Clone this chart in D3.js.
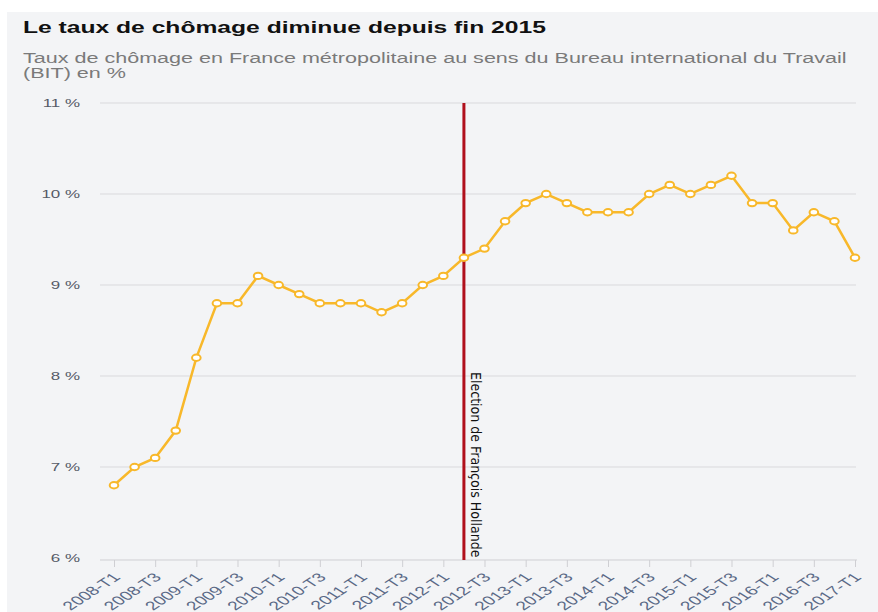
<!DOCTYPE html>
<html>
<head>
<meta charset="utf-8">
<script src="https://cdn.jsdelivr.net/npm/d3@7"></script>
<style>
  body { margin: 0; background: #fff; }
  svg { display: block; }
</style>
</head>
<body>
<script>
var quarters = [
  "2008-T1","2008-T2","2008-T3","2008-T4",
  "2009-T1","2009-T2","2009-T3","2009-T4",
  "2010-T1","2010-T2","2010-T3","2010-T4",
  "2011-T1","2011-T2","2011-T3","2011-T4",
  "2012-T1","2012-T2","2012-T3","2012-T4",
  "2013-T1","2013-T2","2013-T3","2013-T4",
  "2014-T1","2014-T2","2014-T3","2014-T4",
  "2015-T1","2015-T2","2015-T3","2015-T4",
  "2016-T1","2016-T2","2016-T3","2016-T4",
  "2017-T1"
];
var rates = [
  6.8, 7.0, 7.1, 7.4,
  8.2, 8.8, 8.8, 9.1,
  9.0, 8.9, 8.8, 8.8,
  8.8, 8.7, 8.8, 9.0,
  9.1, 9.3, 9.4, 9.7,
  9.9, 10.0, 9.9, 9.8,
  9.8, 9.8, 10.0, 10.1,
  10.0, 10.1, 10.2, 9.9,
  9.9, 9.6, 9.8, 9.7,
  9.3
];
var yTicks = [6, 7, 8, 9, 10, 11];
var electionQuarter = "2012-T2";
var electionLabel = "Election de François Hollande";

var W = 878, H = 612;
// the source picture is stretched sideways, so text is widened to match
var stretch = 1.54;

var svg = d3.select("body").append("svg")
    .attr("width", W)
    .attr("height", H);

// panel background
svg.append("rect")
    .attr("x", 7).attr("y", 12)
    .attr("width", W - 7).attr("height", H - 12)
    .attr("fill", "#f3f4f6");

svg.append("text")
    .attr("transform", "translate(23,33) scale(" + stretch + ",1)")
    .style("font-family", "Liberation Sans, Arial, sans-serif")
    .style("font-size", "16px")
    .style("font-weight", "bold")
    .attr("fill", "#111")
    .text("Le taux de chômage diminue depuis fin 2015");

var sub = svg.append("text")
    .attr("transform", "translate(23,0) scale(" + stretch + ",1)")
    .style("font-family", "Liberation Sans, Arial, sans-serif")
    .style("font-size", "14px")
    .attr("fill", "#7a7a7a");
sub.append("tspan").attr("x", 0).attr("y", 63)
    .text("Taux de chômage en France métropolitaine au sens du Bureau international du Travail");
sub.append("tspan").attr("x", 0).attr("y", 78)
    .text("(BIT) en %");

var x = d3.scalePoint()
    .domain(quarters)
    .range([114, 855]);

var y = d3.scaleLinear()
    .domain([6, 11])
    .range([558, 103]);

// gridlines
svg.append("g")
    .selectAll("line")
    .data(yTicks.slice(1))
    .enter().append("line")
    .attr("x1", 100).attr("x2", 856)
    .attr("y1", function (d) { return y(d); })
    .attr("y2", function (d) { return y(d); })
    .attr("stroke", "#d9d9dc")
    .attr("stroke-width", 1);

// y labels
svg.append("g")
    .selectAll("text")
    .data(yTicks)
    .enter().append("text")
    .attr("transform", function (d) {
        return "translate(80," + (y(d) + 4) + ") scale(" + stretch + ",1)";
    })
    .attr("text-anchor", "end")
    .style("font-family", "Liberation Sans, Arial, sans-serif")
    .style("font-size", "11px")
    .attr("fill", "#555a66")
    .text(function (d) { return d + " %"; });

// x axis
var xAxis = d3.axisBottom(x)
    .tickValues(quarters.filter(function (d, i) { return i % 2 === 0; }))
    .tickSize(7)
    .tickSizeOuter(0);

var gx = svg.append("g")
    .attr("transform", "translate(0," + 560 + ")")
    .call(xAxis);
gx.select(".domain")
    .attr("d", "M100,0H857")
    .attr("stroke", "#cfcfd3");
gx.selectAll(".tick line").attr("stroke", "#cfcfd3");
gx.selectAll(".tick text")
    .style("font-family", "Liberation Sans, Arial, sans-serif")
    .style("font-size", "12.5px")
    .attr("fill", "#5a6986")
    .attr("text-anchor", "end")
    .attr("dy", "0.35em")
    .attr("y", 0)
    .attr("transform", "translate(2,15) scale(" + stretch + ",1) rotate(-45)");

// election line
var ex = x(electionQuarter);
svg.append("line")
    .attr("x1", ex).attr("x2", ex)
    .attr("y1", y(11)).attr("y2", 560)
    .attr("stroke", "#b0101c")
    .attr("stroke-width", 3);

svg.append("text")
    .attr("transform", "translate(" + (ex + 7) + ",372) rotate(90)")
    .style("font-family", "Liberation Sans Narrow, DejaVu Sans Condensed, sans-serif")
    .style("font-size", "14px")
    .attr("fill", "#111")
    .text(electionLabel);

// series line
var line = d3.line()
    .x(function (d, i) { return x(quarters[i]); })
    .y(function (d) { return y(d); });

svg.append("path")
    .datum(rates)
    .attr("d", line)
    .attr("fill", "none")
    .attr("stroke", "#f8b82a")
    .attr("stroke-width", 2.5);

svg.append("g")
    .selectAll("ellipse")
    .data(rates)
    .enter().append("ellipse")
    .attr("cx", function (d, i) { return x(quarters[i]); })
    .attr("cy", function (d) { return y(d); })
    .attr("rx", 4.3)
    .attr("ry", 3.2)
    .attr("fill", "#fff")
    .attr("stroke", "#f8b82a")
    .attr("stroke-width", 2);
</script>
</body>
</html>
